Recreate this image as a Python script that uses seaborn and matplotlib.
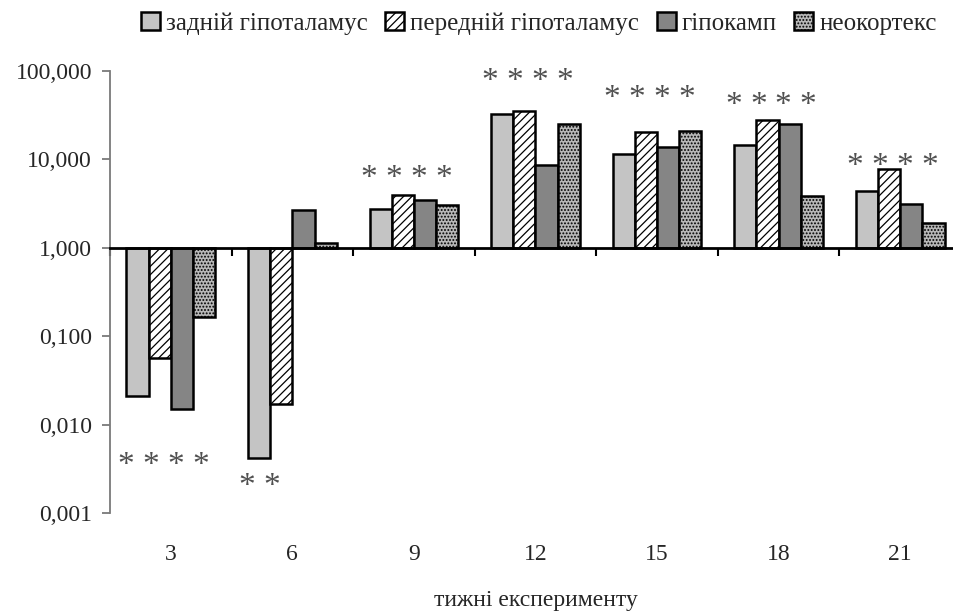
"""
log-scale grouped bar chart: brain regions vs weeks of experiment
"""
import matplotlib
matplotlib.use('Agg')
import matplotlib.pyplot as plt
import numpy as np
import pandas as pd
import seaborn as sns

sns.set_style('white')
plt.rcParams['font.family'] = ['Liberation Serif', 'DejaVu Serif']
plt.rcParams['hatch.linewidth'] = 0.9

weeks = ['3', '6', '9', '12', '15', '18', '21']
regions = ['задній гіпоталамус', 'передній гіпоталамус', 'гіпокамп', 'неокортекс']
posterior_hyp = [0.021, 0.0042, 2.75, 32.8, 11.6, 14.6, 4.4]
anterior_hyp = [0.057, 0.017, 4.0, 35.5, 20.5, 28.0, 7.8]
hippocampus = [0.015, 2.7, 3.5, 8.7, 13.9, 25.3, 3.15]
neocortex = [0.166, 1.14, 3.05, 25.3, 21.0, 3.9, 1.92]
n_stars = [4, 2, 4, 4, 4, 4, 4]
star_level = [0.0034, 0.002, 6.0, 76.0, 49.0, 40.0, 8.2]
y_ticks = [0.001, 0.01, 0.1, 1, 10, 100]

series = [posterior_hyp, anterior_hyp, hippocampus, neocortex]
df = pd.DataFrame({
    'week': np.tile(weeks, len(regions)),
    'region': np.repeat(regions, len(weeks)),
    'value': np.concatenate(series),
})

colors = ['#c4c4c4', '#ffffff', '#858585', '#b8b8b8']
hatches = [None, '////', None, '.....']

fig = plt.figure(figsize=(9.54, 6.16), dpi=100)
ax = fig.add_axes([0.1153, 0.1672, 0.892, 0.7175])

sns.barplot(data=df, x='week', y='value', hue='region', order=weeks, hue_order=regions,
            palette=colors, width=0.73, errorbar=None, edgecolor='black', linewidth=1.8,
            saturation=1, legend=False, ax=ax)

# bars start at 1 (baseline of the log axis)
for cont, vals, hatch in zip(ax.containers, series, hatches):
    for bar, v in zip(cont, vals):
        bar.set_y(1)
        bar.set_height(v - 1)
        if hatch:
            bar.set_hatch(hatch)

ax.set_yscale('log')
ax.set_ylim(0.001, 100)
ax.set_xlim(-0.5, 6.5)
ax.set_yticks(y_ticks)
ax.set_yticklabels([f'{t:.3f}'.replace('.', ',') for t in y_ticks])
ax.minorticks_off()
ax.set_xlabel('')
ax.set_ylabel('')

for s in ['top', 'right']:
    ax.spines[s].set_visible(False)
ax.spines['left'].set_color('#7a7a7a')
ax.spines['left'].set_linewidth(1.3)
ax.spines['bottom'].set_position(('data', 1))
ax.spines['bottom'].set_linewidth(2)
ax.spines['bottom'].set_color('black')
ax.set_xticks(np.arange(-0.5, len(weeks), 1))
ax.tick_params(axis='x', bottom=True, direction='out', length=6, width=1.5,
               color='black', labelbottom=False)
ax.tick_params(axis='y', left=True, direction='out', length=6, width=1.3, color='#7a7a7a',
               labelsize=17, pad=7)

sec = ax.secondary_xaxis('bottom')
sec.set_xticks(range(len(weeks)), weeks)
sec.tick_params(length=0, labelsize=17, pad=22)
sec.spines['bottom'].set_visible(False)
sec.set_xlabel('тижні експерименту', fontsize=17, labelpad=18)

# significance asterisks
offsets = (np.arange(4) - 1.5) * 0.205 - 0.065
for i, (n, lvl) in enumerate(zip(n_stars, star_level)):
    for k in range(n):
        ax.text(i + offsets[k], lvl, '*', ha='center', va='center',
                color='#505050', fontsize=24)

handles = [c[0] for c in ax.containers]
fig.legend(handles, regions, loc='center', bbox_to_anchor=(0.565, 0.962), ncol=4,
           frameon=False, fontsize=18, handlelength=0.75, handleheight=0.75,
           handletextpad=0.25, columnspacing=0.7, borderaxespad=0)

fig.savefig('out.png', dpi=100)
plt.close(fig)
